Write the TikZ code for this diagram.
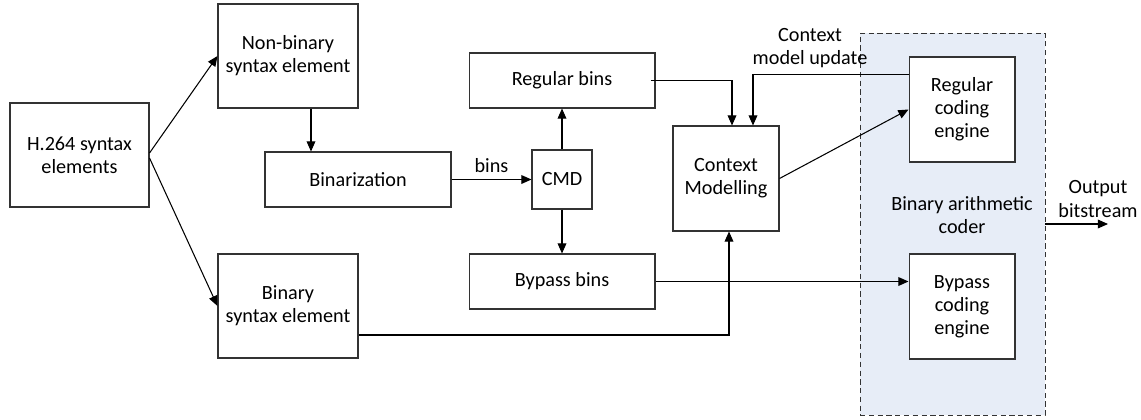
\documentclass[tikz,border=0pt]{standalone}
\usepackage{fontspec}
\setmainfont{Carlito}
\usetikzlibrary{arrows.meta}
\definecolor{coderblue}{RGB}{231,237,247}

\begin{document}
\begin{tikzpicture}[x=0.02cm, y=-0.02cm, font=\fontsize{11.5}{13.2}\selectfont,
    blk/.style={draw=black!80, line width=0.6pt, fill=white, align=center, inner sep=0pt},
    arr/.style={-{Triangle[length=5.8pt,width=5pt]}, line width=0.6pt},
    ln/.style={line width=0.6pt}]
  \useasboundingbox (0,0) rectangle (1141,419);
  \node[draw=black!80, densely dashed, fill=coderblue, minimum width=3.7cm, minimum height=7.64cm] (coder) at (952.5,224) {};
  \node[align=center] (coderlbl) at (962,215) {Binary arithmetic\\coder};
  \node[blk, minimum width=2.78cm, minimum height=2.08cm] (h264) at (79.5,155) {H.264 syntax\\elements};
  \node[blk, minimum width=2.8cm, minimum height=2.08cm] (nonbin) at (288,56) {Non-binary\\syntax element};
  \node[blk, minimum width=3.72cm, minimum height=1.1cm] (binz) at (358,179.5) {Binarization};
  \node[blk, minimum width=2.8cm, minimum height=2.08cm] (binse) at (288,306) {Binary\\syntax element};
  \node[blk, minimum width=3.72cm, minimum height=1.1cm] (regbins) at (562,80.5) {Regular bins};
  \node[blk, minimum width=1.2cm, minimum height=1.18cm] (cmd) at (562,179.5) {CMD};
  \node[blk, minimum width=3.72cm, minimum height=1.1cm] (bypbins) at (562,281.5) {Bypass bins};
  \node[blk, minimum width=2.12cm, minimum height=2.1cm] (ctx) at (726,178.5) {Context\\Modelling};
  \node[blk, minimum width=2.12cm, minimum height=2.1cm] (rce) at (962,109.5) {Regular\\coding\\engine};
  \node[blk, minimum width=2.12cm, minimum height=2.1cm] (bce) at (962,306.5) {Bypass\\coding\\engine};
  \node[align=center] (updlbl) at (810,48) {Context\\model update};
  \node[align=center] (outlbl) at (1098,199) {Output\\bitstream};
  \coordinate (outend) at (1108,224);

  \draw[arr] ([yshift=0.04cm]h264.east) -- (nonbin.west);
  \draw[arr] ([yshift=-0.06cm]h264.east) -- (binse.west);
  \draw[arr] ([xshift=0.46cm]nonbin.south) -- ([xshift=0.46cm]nonbin.south |- binz.north);
  \draw[arr] (binz.east) -- node[above]{bins} (cmd.west);
  \draw[arr] (cmd.north) -- (regbins.south);
  \draw[arr] (cmd.south) -- (bypbins.north);
  \draw[arr] ([xshift=-0.1cm]regbins.east) -| ([xshift=0.12cm]ctx.north);
  \draw[arr] ([yshift=-0.36cm]rce.north west) -| ([xshift=0.54cm]ctx.north);
  \draw[arr] (ctx.east) -- (rce.west);
  \draw[arr] (bypbins.east) -- (bypbins.east -| bce.west);
  \draw[arr] ([yshift=-0.58cm]binse.east) -| ([xshift=0.06cm]ctx.south);
  \draw[arr] (coder.east) -- (outend);
\end{tikzpicture}
\end{document}
